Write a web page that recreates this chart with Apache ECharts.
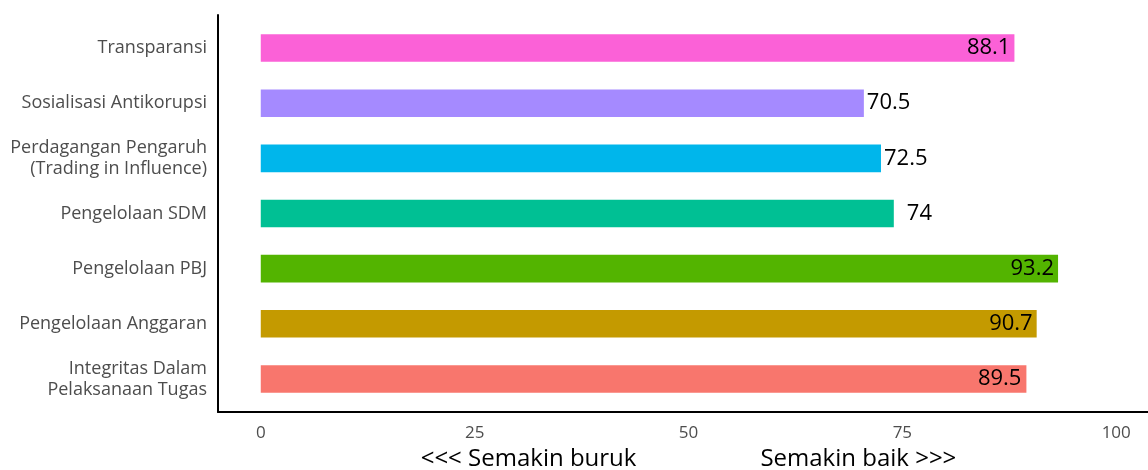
<!DOCTYPE html>
<html>
<head>
<meta charset="utf-8">
<script src="https://cdn.jsdelivr.net/npm/echarts@6/dist/echarts.min.js"></script>
<style>
html,body{margin:0;padding:0;background:#fff;}
#c{width:1148px;height:470px;}
</style>
</head>
<body>
<div id="c"></div>
<script>
// Data (bottom to top, as drawn on the category axis)
const categories = [
  'Integritas Dalam\nPelaksanaan Tugas',
  'Pengelolaan Anggaran',
  'Pengelolaan PBJ',
  'Pengelolaan SDM',
  'Perdagangan Pengaruh\n(Trading in Influence)',
  'Sosialisasi Antikorupsi',
  'Transparansi'
];
const values = [89.5, 90.7, 93.2, 74, 72.5, 70.5, 88.1];
const colors = ['#F8766D', '#C49A00', '#53B400', '#00C094', '#00B6EB', '#A58AFF', '#FB61D7'];
const labelInside = [true, true, true, false, false, false, true];
const labelDistance = [5, 4, 4, 13, 3, 3, 4];
const xTicks = [0, 25, 50, 75, 100];
const xTitleLeft = '<<< Semakin buruk';
const xTitleRight = 'Semakin baik >>>';

const FONT = 'Open Sans';
const barData = values.map((v, i) => ({
  value: v,
  itemStyle: { color: colors[i] },
  label: {
    position: labelInside[i] ? 'insideRight' : 'right',
    distance: labelDistance[i]
  }
}));

const chart = echarts.init(document.getElementById('c'), null, { renderer: 'canvas' });
chart.setOption({
  animation: false,
  backgroundColor: '#fff',
  grid: [
    { left: 218, top: 20.5, width: 941, height: 386, containLabel: false, outerBoundsMode: 'none' },
    { left: 218, top: 15, width: 941, height: 397, containLabel: false, outerBoundsMode: 'none' }
  ],
  xAxis: [
    {
      gridIndex: 0, type: 'value', min: -5, max: 105,
      show: false
    },
    {
      gridIndex: 1, type: 'value', min: -5, max: 105,
      splitLine: { show: false },
      axisTick: { show: false },
      axisLine: { show: true, onZero: false, lineStyle: { color: '#000', width: 2 } },
      axisLabel: {
        customValues: xTicks,
        color: '#4D4D4D', fontFamily: FONT, fontSize: 17, margin: 13
      },
      name: '{a|' + xTitleLeft + '}{g|}{b|' + xTitleRight + '}',
      nameLocation: 'middle',
      nameGap: 34,
      nameTextStyle: {
        rich: {
          a: { color: '#000', fontFamily: FONT, fontSize: 24 },
          g: { width: 124 },
          b: { color: '#000', fontFamily: FONT, fontSize: 24 }
        }
      }
    }
  ],
  yAxis: [
    {
      gridIndex: 0, type: 'category', data: categories,
      axisLine: { show: false },
      axisTick: { show: false },
      axisLabel: {
        color: '#4D4D4D', fontFamily: FONT, fontSize: 18, margin: 11,
        align: 'right', lineHeight: 21
      }
    },
    {
      gridIndex: 1, type: 'value', min: 0, max: 1,
      splitLine: { show: false },
      axisTick: { show: false },
      axisLabel: { show: false },
      axisLine: { show: true, onZero: false, lineStyle: { color: '#000', width: 2 } }
    }
  ],
  series: [{
    type: 'bar',
    xAxisIndex: 0, yAxisIndex: 0,
    data: barData,
    barWidth: '50%',
    label: {
      show: true,
      color: '#000',
      fontFamily: FONT,
      fontSize: 22
    }
  }]
});
</script>
</body>
</html>
